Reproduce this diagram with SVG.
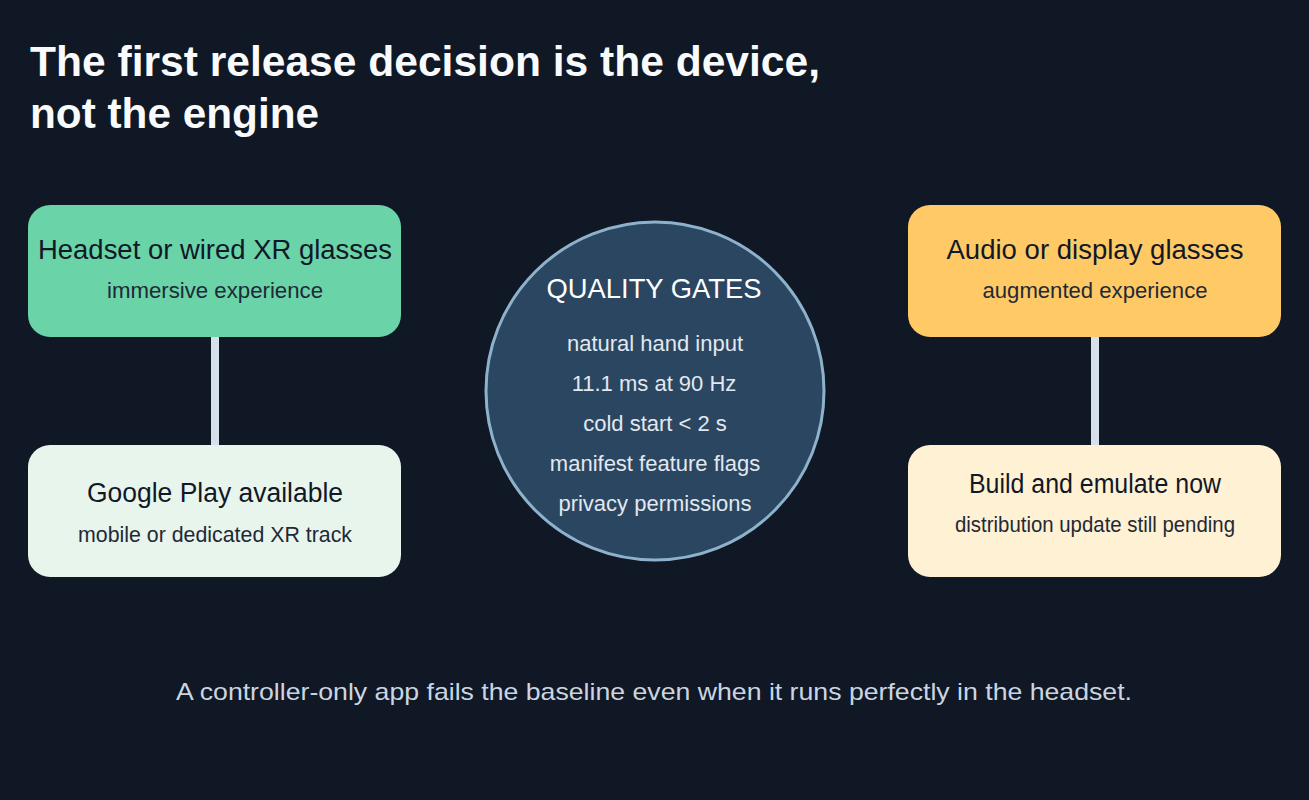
<svg xmlns="http://www.w3.org/2000/svg" width="1309" height="800" viewBox="0 0 1309 800">
<style>
text{font-family:"Liberation Sans",Arial,sans-serif;text-anchor:middle}
.title{font-weight:bold;font-size:42.5px;fill:#f8fafc;text-anchor:start}
.h{font-size:27px;fill:#111827}
.s{font-size:21.5px;fill:#1f2937}
.ch{font-size:27.4px;fill:#ffffff}
.ci{font-size:22px;fill:#e2e8f0}
.foot{font-size:24px;fill:#cbd5e1}
.box{stroke:none}
.conn{stroke:#d6e0ea;stroke-width:8;fill:none}
</style>
<rect width="1309" height="800" fill="#0f1824"/>
<text class="title" x="30" y="76" textLength="790" lengthAdjust="spacingAndGlyphs">The first release decision is the device,</text>
<text class="title" x="30" y="128" textLength="289" lengthAdjust="spacingAndGlyphs">not the engine</text>
<g id="connectors">
<line class="conn" x1="215" y1="337" x2="215" y2="445"/>
<line class="conn" x1="1095" y1="337" x2="1095" y2="445"/>
</g>
<g id="headset">
<rect class="box" x="28" y="205" width="373" height="132" rx="22" fill="#6ad3a7"/>
<text class="h" x="215" y="259" textLength="354" lengthAdjust="spacingAndGlyphs">Headset or wired XR glasses</text>
<text class="s" x="215" y="298" textLength="216" lengthAdjust="spacingAndGlyphs">immersive experience</text>
</g>
<g id="googleplay">
<rect class="box" x="28" y="445" width="373" height="132" rx="22" fill="#e8f5ec"/>
<text class="h" x="215" y="502" textLength="256" lengthAdjust="spacingAndGlyphs">Google Play available</text>
<text class="s" x="215" y="542" textLength="274" lengthAdjust="spacingAndGlyphs">mobile or dedicated XR track</text>
</g>
<g id="quality">
<circle cx="655" cy="391" r="169" fill="#2b4660" stroke="#8eb2cb" stroke-width="3"/>
<text class="ch" x="654" y="298" textLength="215" lengthAdjust="spacingAndGlyphs">QUALITY GATES</text>
<text class="ci" x="655" y="351">natural hand input</text>
<text class="ci" x="654" y="391">11.1 ms at 90 Hz</text>
<text class="ci" x="655" y="431">cold start &lt; 2 s</text>
<text class="ci" x="655" y="471">manifest feature flags</text>
<text class="ci" x="655" y="511">privacy permissions</text>
</g>
<g id="audio">
<rect class="box" x="908" y="205" width="373" height="132" rx="22" fill="#ffc965"/>
<text class="h" x="1095" y="259" textLength="297" lengthAdjust="spacingAndGlyphs">Audio or display glasses</text>
<text class="s" x="1095" y="298" textLength="225" lengthAdjust="spacingAndGlyphs">augmented experience</text>
</g>
<g id="emulate">
<rect class="box" x="908" y="445" width="373" height="132" rx="22" fill="#fff1d3"/>
<text class="h" x="1095" y="493" textLength="252" lengthAdjust="spacingAndGlyphs">Build and emulate now</text>
<text class="s" x="1095" y="532" textLength="280" lengthAdjust="spacingAndGlyphs">distribution update still pending</text>
</g>
<text class="foot" x="654" y="700" textLength="956" lengthAdjust="spacingAndGlyphs">A controller-only app fails the baseline even when it runs perfectly in the headset.</text>
</svg>
